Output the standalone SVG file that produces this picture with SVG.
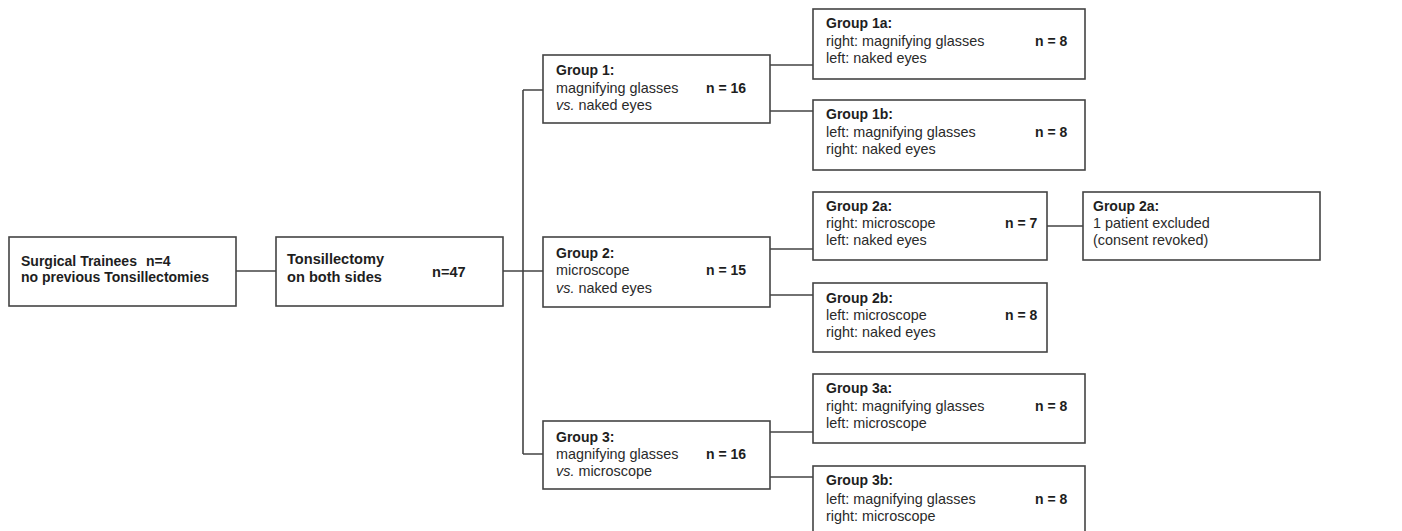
<svg xmlns="http://www.w3.org/2000/svg" width="1402" height="531" viewBox="0 0 1402 531">
<style>
.box{fill:#fff;stroke:#444;stroke-width:1.6}
.ln{fill:none;stroke:#444;stroke-width:1.6}
text{font-family:"Liberation Sans",Arial,sans-serif;font-size:14px;fill:#1e1e1e}
.b{font-weight:bold}
.r{font-size:14.4px;fill:#2a2a2a}
.i{font-style:italic}
</style>
<rect width="1402" height="531" fill="#fff"/>
<g id="connectors">
<path class="ln" d="M236 271H276M503 271H523M523 90V454M523 90H543M523 271H543M523 454H543"/>
<path class="ln" d="M770 65H813M770 111H813M770 249H813M770 295H813M770 432H813M770 477H813M1047 226H1083"/>
</g>
<g id="trainees">
<rect class="box" x="9" y="237" width="227" height="69"/>
<text class="b" x="21" y="266">Surgical Trainees</text>
<text class="b" x="146" y="266">n=4</text>
<text class="b" x="21" y="282">no previous Tonsillectomies</text>
</g>
<g id="tonsillectomy">
<rect class="box" x="276" y="237" width="227" height="69"/>
<text class="b" x="287" y="264" style="font-size:14.6px">Tonsillectomy</text>
<text class="b" x="287" y="282" style="font-size:14.6px">on both sides</text>
<text class="b" x="432" y="277" style="font-size:14.6px">n=47</text>
</g>
<g id="group1">
<rect class="box" x="543" y="55" width="227" height="68"/>
<text class="b" x="556" y="75">Group 1:</text>
<text class="r" x="556" y="93">magnifying glasses</text>
<text class="r" x="556" y="110"><tspan class="i">vs.</tspan> naked eyes</text>
<text class="b" x="706" y="93">n = 16</text>
</g>
<g id="group2">
<rect class="box" x="543" y="237" width="227" height="70"/>
<text class="b" x="556" y="258">Group 2:</text>
<text class="r" x="556" y="275">microscope</text>
<text class="r" x="556" y="293"><tspan class="i">vs.</tspan> naked eyes</text>
<text class="b" x="706" y="275">n = 15</text>
</g>
<g id="group3">
<rect class="box" x="543" y="421" width="227" height="68"/>
<text class="b" x="556" y="442">Group 3:</text>
<text class="r" x="556" y="459">magnifying glasses</text>
<text class="r" x="556" y="476"><tspan class="i">vs.</tspan> microscope</text>
<text class="b" x="706" y="459">n = 16</text>
</g>
<g id="group1a">
<rect class="box" x="813" y="9" width="272" height="70"/>
<text class="b" x="826" y="28">Group 1a:</text>
<text class="r" x="826" y="46">right: magnifying glasses</text>
<text class="r" x="826" y="63">left: naked eyes</text>
<text class="b" x="1035" y="46">n = 8</text>
</g>
<g id="group1b">
<rect class="box" x="813" y="100" width="272" height="70"/>
<text class="b" x="826" y="119">Group 1b:</text>
<text class="r" x="826" y="137">left: magnifying glasses</text>
<text class="r" x="826" y="154">right: naked eyes</text>
<text class="b" x="1035" y="137">n = 8</text>
</g>
<g id="group2a">
<rect class="box" x="813" y="192" width="234" height="68"/>
<text class="b" x="826" y="211">Group 2a:</text>
<text class="r" x="826" y="228">right: microscope</text>
<text class="r" x="826" y="245">left: naked eyes</text>
<text class="b" x="1005" y="228">n = 7</text>
</g>
<g id="excluded">
<rect class="box" x="1083" y="192" width="237" height="68"/>
<text class="b" x="1093" y="211">Group 2a:</text>
<text class="r" x="1093" y="228">1 patient excluded</text>
<text class="r" x="1093" y="245">(consent revoked)</text>
</g>
<g id="group2b">
<rect class="box" x="813" y="283" width="234" height="69"/>
<text class="b" x="826" y="303">Group 2b:</text>
<text class="r" x="826" y="320">left: microscope</text>
<text class="r" x="826" y="337">right: naked eyes</text>
<text class="b" x="1005" y="320">n = 8</text>
</g>
<g id="group3a">
<rect class="box" x="813" y="374" width="272" height="69"/>
<text class="b" x="826" y="393">Group 3a:</text>
<text class="r" x="826" y="411">right: magnifying glasses</text>
<text class="r" x="826" y="428">left: microscope</text>
<text class="b" x="1035" y="411">n = 8</text>
</g>
<g id="group3b">
<rect class="box" x="813" y="466" width="272" height="72"/>
<text class="b" x="826" y="485">Group 3b:</text>
<text class="r" x="826" y="504">left: magnifying glasses</text>
<text class="r" x="826" y="521">right: microscope</text>
<text class="b" x="1035" y="504">n = 8</text>
</g>
</svg>
